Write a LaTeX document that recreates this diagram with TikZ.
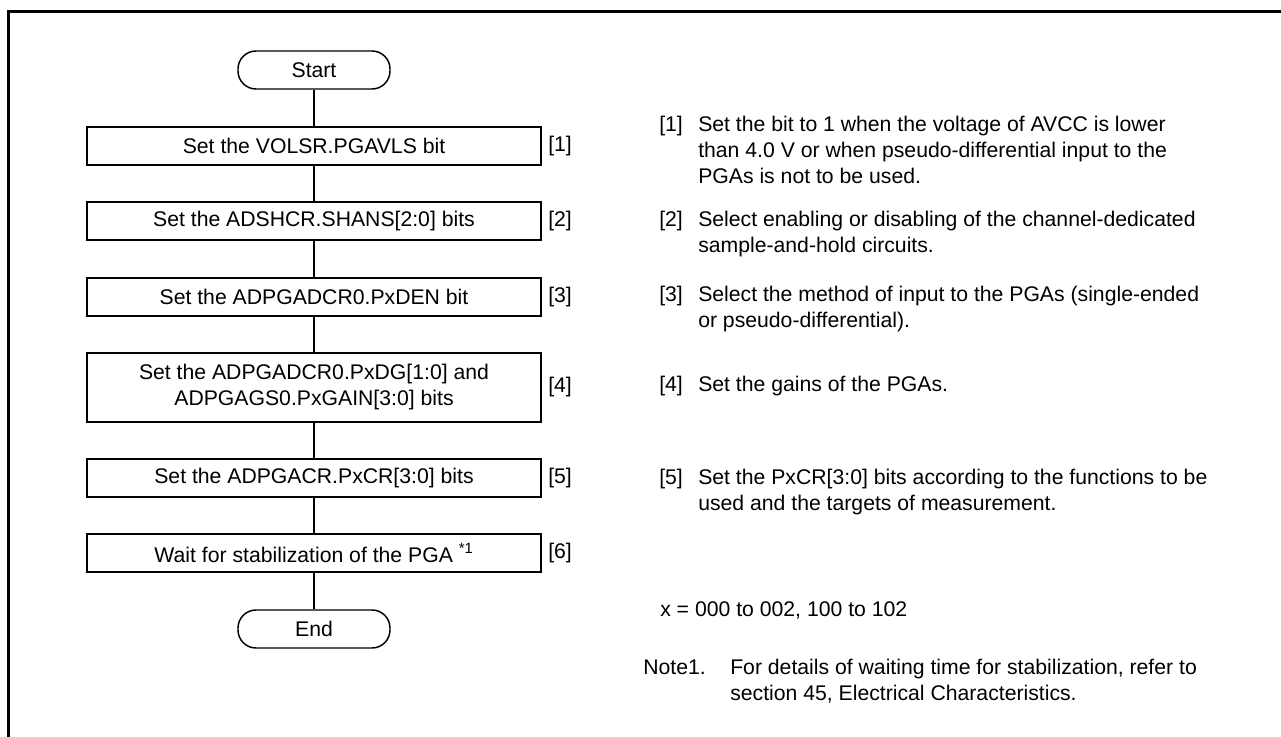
\documentclass[tikz,border=0pt]{standalone}
\usepackage{fontspec}
\setmainfont{Liberation Sans}
\usetikzlibrary{positioning}
\tikzset{
  procbox/.style={draw, line width=1.1pt, minimum width=340.5pt, minimum height=28.5pt, align=center, inner sep=0pt},
  termbox/.style={draw, line width=1.1pt, rounded corners=13.5pt, minimum width=114pt, minimum height=28.5pt, inner sep=0pt},
  steptag/.style={anchor=west, inner sep=0pt},
  flowline/.style={line width=0.9pt},
  notetext/.style={anchor=base west, align=left, inner sep=0pt},
}

\begin{document}
\begin{tikzpicture}[x=0.75pt, y=-0.75pt, font=\fontsize{15.9}{19.5}\selectfont]
	\useasboundingbox (0,0) rectangle (1281,737);
	
	% frame
	\draw[line width=2.3pt] (8.3,760) -- (8.3,11.7) -- (1300,11.7);
	
	% flow
	\node[termbox] (start) at (314,70) {Start};
	\node[procbox] (b1) at (314,146) {Set the VOLSR.PGAVLS bit};
	\node[procbox] (b2) at (314,221) {Set the ADSHCR.SHANS[2:0] bits};
	\node[procbox] (b3) at (314,297) {Set the ADPGADCR0.PxDEN bit};
	\node[procbox, minimum height=51.75pt] (b4) at (314,387.5) {Set the ADPGADCR0.PxDG[1:0] and\\ADPGAGS0.PxGAIN[3:0] bits};
	\node[procbox] (b5) at (314,478) {Set the ADPGACR.PxCR[3:0] bits};
	\node[procbox] (b6) at (314,553) {Wait for stabilization of the PGA \textsuperscript{*1}};
	\node[termbox] (stop) at (314,629) {End};
	
	\foreach \a/\b in {start/b1, b1/b2, b2/b3, b3/b4, b4/b5, b5/b6, b6/stop}
		\draw[flowline] (\a) -- (\b);
	
	% step tags
	\node[steptag] (t1) at (548,146) {[1]};
	\node[steptag] (t2) at (548,221) {[2]};
	\node[steptag] (t3) at (548,297) {[3]};
	\node[steptag] (t4) at (548,387.5) {[4]};
	\node[steptag] (t5) at (548,478) {[5]};
	\node[steptag] (t6) at (548,553) {[6]};
	
	% notes on the right (base = last line)
	\node[notetext] (n1) at (659,132) {[1]};
	\node[notetext] (d1) at (698,184) {Set the bit to 1 when the voltage of AVCC is lower\\than 4.0 V or when pseudo-differential input to the\\PGAs is not to be used.};
	\node[notetext] (n2) at (659,227) {[2]};
	\node[notetext] (d2) at (698,253) {Select enabling or disabling of the channel-dedicated\\sample-and-hold circuits.};
	\node[notetext] (n3) at (659,302) {[3]};
	\node[notetext] (d3) at (698,328) {Select the method of input to the PGAs (single-ended\\or pseudo-differential).};
	\node[notetext] (n4) at (659,392) {[4]};
	\node[notetext] (d4) at (698,392) {Set the gains of the PGAs.};
	\node[notetext] (n5) at (659,484) {[5]};
	\node[notetext] (d5) at (698,510) {Set the PxCR[3:0] bits according to the functions to be\\used and the targets of measurement.};
	
	\node[notetext] (xrange) at (660,616) {x = 000 to 002, 100 to 102};
	\node[notetext] (note) at (643,674) {Note1.};
	\node[notetext] (notebody) at (730,700) {For details of waiting time for stabilization, refer to\\section 45, Electrical Characteristics.};
\end{tikzpicture}
\end{document}
